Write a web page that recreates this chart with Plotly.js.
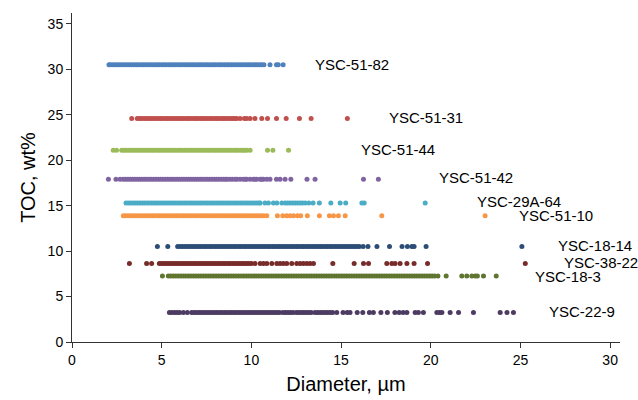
<!DOCTYPE html>
<html>
<head>
<meta charset="utf-8">
<script src="https://cdn.plot.ly/plotly-3.0.1.min.js"></script>
<style>html,body{margin:0;padding:0;background:#fff;}#chart{width:638px;height:400px;}</style>
</head>
<body>
<div id="chart"></div>
<script>
// Sample names and TOC (wt%) of each sample
const samples = ["YSC-51-82","YSC-51-31","YSC-51-44","YSC-51-42","YSC-29A-64","YSC-51-10","YSC-18-14","YSC-38-22","YSC-18-3","YSC-22-9"];
const tocValues = [30.5, 24.6, 21.1, 17.9, 15.3, 13.9, 10.5, 8.65, 7.25, 3.25];
const colors = ["#4F81BD","#C0504D","#9BBB59","#8064A2","#4BACC6","#F79646","#2C4D75","#772C2A","#5F7530","#4D3B62"];

// Diameters (µm)
const d_51_82 = [2.06,2.14,2.27,2.4,2.52,2.66,2.79,2.91,3.05,3.18,3.3,3.44,3.57,3.69,3.83,3.96,4.08,4.22,4.35,4.47,4.61,4.74,4.86,5.0,5.13,5.25,5.39,5.52,5.64,5.78,5.91,6.03,6.17,6.3,6.42,6.56,6.69,6.81,6.95,7.08,7.2,7.34,7.47,7.59,7.73,7.86,7.98,8.12,8.25,8.37,8.51,8.64,8.76,8.9,9.03,9.15,9.29,9.42,9.54,9.68,9.81,9.93,10.07,10.2,10.32,10.46,10.58,10.7,11.04,11.4,11.5,11.77];
const d_51_31 = [3.33,3.64,3.76,3.89,4.03,4.16,4.28,4.42,4.55,4.67,4.81,4.94,5.06,5.2,5.33,5.45,5.59,5.72,5.84,5.98,6.11,6.23,6.37,6.5,6.62,6.76,6.89,7.01,7.15,7.28,7.4,7.54,7.67,7.79,7.93,8.06,8.18,8.32,8.45,8.57,8.71,8.84,8.96,9.08,9.18,9.37,9.61,9.74,9.93,10.2,10.58,10.9,11.4,11.94,12.68,13.33,15.35];
const d_51_44 = [2.3,2.48,2.77,2.9,3.02,3.16,3.29,3.41,3.55,3.68,3.8,3.94,4.07,4.19,4.33,4.46,4.58,4.72,4.85,4.97,5.11,5.24,5.36,5.5,5.63,5.75,5.89,6.02,6.14,6.28,6.41,6.53,6.67,6.8,6.92,7.06,7.19,7.31,7.45,7.58,7.7,7.84,7.97,8.09,8.23,8.36,8.48,8.62,8.75,8.87,9.01,9.14,9.26,9.4,9.52,9.63,9.75,9.93,10.9,11.2,12.07];
const d_51_42 = [2.03,2.45,2.68,2.86,2.99,3.12,3.25,3.38,3.51,3.64,3.77,3.9,4.03,4.16,4.29,4.42,4.55,4.68,4.81,4.94,5.07,5.2,5.33,5.46,5.59,5.72,5.85,5.98,6.11,6.24,6.37,6.5,6.63,6.76,6.89,7.02,7.15,7.28,7.41,7.54,7.67,7.8,7.93,8.06,8.19,8.32,8.45,8.56,8.66,8.81,8.94,9.09,9.2,9.37,9.55,9.66,9.74,9.93,10.11,10.2,10.3,10.49,10.58,10.67,10.86,11.04,11.4,11.6,11.88,12.2,13.1,13.55,16.25,17.08];
const d_29A_64 = [3.01,3.14,3.27,3.4,3.53,3.66,3.79,3.92,4.05,4.18,4.31,4.44,4.57,4.7,4.83,4.96,5.09,5.22,5.35,5.48,5.61,5.74,5.87,6.0,6.13,6.26,6.39,6.52,6.65,6.78,6.91,7.04,7.17,7.3,7.43,7.56,7.69,7.82,7.95,8.08,8.21,8.34,8.47,8.6,8.73,8.86,8.99,9.12,9.25,9.38,9.51,9.64,9.77,9.9,10.03,10.16,10.29,10.42,10.49,10.76,10.95,11.23,11.42,11.7,11.88,12.02,12.16,12.3,12.44,12.58,12.72,12.85,13.0,13.2,13.44,13.79,14.43,14.95,15.26,16.16,16.29,19.69];
const d_51_10 = [2.86,2.99,3.13,3.26,3.4,3.53,3.67,3.8,3.94,4.07,4.21,4.34,4.48,4.61,4.75,4.88,5.02,5.15,5.29,5.42,5.56,5.69,5.83,5.96,6.1,6.23,6.37,6.5,6.64,6.77,6.91,7.04,7.18,7.31,7.45,7.58,7.72,7.85,7.99,8.12,8.26,8.39,8.53,8.66,8.8,8.93,9.07,9.2,9.34,9.47,9.61,9.74,9.88,10.01,10.15,10.28,10.42,10.55,10.69,10.86,11.45,11.75,11.97,12.16,12.35,12.57,12.75,13.12,13.79,14.35,14.58,14.85,15.23,17.27,23.03];
const d_18_14 = [4.76,5.34,5.89,6.03,6.16,6.3,6.43,6.57,6.7,6.84,6.97,7.11,7.24,7.38,7.51,7.65,7.78,7.92,8.05,8.19,8.32,8.46,8.59,8.73,8.86,9.0,9.13,9.27,9.4,9.54,9.67,9.81,9.94,10.08,10.21,10.35,10.48,10.62,10.75,10.89,11.02,11.16,11.29,11.43,11.56,11.7,11.83,11.97,12.1,12.24,12.37,12.51,12.64,12.78,12.91,13.05,13.18,13.32,13.45,13.59,13.72,13.86,13.99,14.13,14.26,14.4,14.53,14.67,14.8,14.94,15.07,15.21,15.34,15.48,15.61,15.75,15.88,16.02,16.23,16.5,17.0,17.7,18.4,18.7,18.95,19.07,19.74,25.08];
const d_38_22 = [3.2,4.16,4.44,4.87,5.0,5.14,5.27,5.41,5.54,5.68,5.81,5.95,6.08,6.22,6.35,6.49,6.62,6.76,6.89,7.03,7.16,7.3,7.43,7.57,7.7,7.84,7.97,8.11,8.24,8.38,8.51,8.65,8.78,8.92,9.05,9.19,9.32,9.46,9.59,9.73,9.86,10.0,10.2,10.49,10.67,10.86,11.14,11.42,11.6,11.78,11.97,12.25,12.53,12.72,12.9,13.09,13.27,13.46,14.54,15.73,16.25,16.53,17.55,17.83,18.01,18.29,18.67,19.07,19.82,25.27];
const d_18_3 = [5.04,5.37,5.51,5.65,5.79,5.93,6.07,6.21,6.35,6.49,6.63,6.77,6.91,7.05,7.19,7.33,7.47,7.61,7.75,7.89,8.03,8.17,8.31,8.45,8.59,8.73,8.87,9.01,9.15,9.29,9.43,9.57,9.71,9.85,9.99,10.13,10.27,10.41,10.55,10.69,10.83,10.97,11.11,11.25,11.39,11.53,11.67,11.81,11.95,12.09,12.23,12.37,12.51,12.65,12.79,12.93,13.07,13.21,13.35,13.49,13.63,13.77,13.91,14.05,14.19,14.33,14.47,14.61,14.75,14.89,15.03,15.17,15.31,15.45,15.59,15.73,15.87,16.01,16.15,16.29,16.43,16.57,16.71,16.85,16.99,17.13,17.27,17.41,17.55,17.69,17.83,17.97,18.11,18.25,18.39,18.53,18.67,18.81,18.95,19.09,19.23,19.37,19.51,19.65,19.79,19.93,20.07,20.21,20.4,20.86,21.73,22.01,22.29,22.48,22.6,22.94,23.65];
const d_22_9 = [5.43,5.57,5.72,5.86,6.0,6.21,6.43,6.67,6.81,6.95,7.09,7.23,7.37,7.51,7.65,7.79,7.93,8.07,8.21,8.35,8.49,8.63,8.77,8.91,9.05,9.19,9.33,9.47,9.61,9.75,9.89,10.03,10.17,10.31,10.45,10.59,10.73,10.87,11.01,11.15,11.29,11.43,11.57,11.76,11.9,12.04,12.18,12.32,12.5,12.64,12.78,12.92,13.06,13.2,13.34,13.55,13.69,13.83,13.97,14.11,14.25,14.39,14.53,14.76,15.11,15.34,15.5,15.9,16.21,16.58,16.8,17.22,17.58,18.0,18.24,18.46,18.67,19.13,19.31,19.59,20.34,20.49,20.62,21.08,21.55,22.38,23.87,24.25,24.61];

const diameters = [d_51_82,d_51_31,d_51_44,d_51_42,d_29A_64,d_51_10,d_18_14,d_38_22,d_18_3,d_22_9];

// Label anchor positions (x in µm, y in wt%)
const labelX = [13.45, 17.55, 16.0, 20.35, 22.45, 24.78, 27.0, 27.33, 25.72, 26.5];
const labelY = [30.55, 24.65, 21.15, 18.05, 15.5, 13.95, 10.65, 8.75, 7.25, 3.35];

const FONT = "Liberation Sans, Arial, sans-serif";

const traces = samples.map((name, i) => ({
  type: "scatter",
  mode: "markers",
  name: name,
  x: diameters[i],
  y: diameters[i].map(() => tocValues[i]),
  marker: {color: colors[i], size: 5, line: {width: 0}},
  hoverinfo: "x+y+name"
}));

const annotations = samples.map((name, i) => ({
  x: labelX[i], y: labelY[i], xref: "x", yref: "y",
  text: name, showarrow: false, xanchor: "left", yanchor: "middle",
  font: {family: FONT, size: 15, color: "#000"}
}));

const layout = {
  width: 638, height: 400,
  margin: {l: 72, r: 18, t: 13, b: 58},
  paper_bgcolor: "#fff", plot_bgcolor: "#fff",
  showlegend: false,
  font: {family: FONT, color: "#000"},
  xaxis: {
    range: [0, 30.55], tickvals: [0,5,10,15,20,25,30], ticktext: ["0","5","10","15","20","25","30"],
    showgrid: false, zeroline: false, showline: true, linecolor: "#333", linewidth: 1,
    ticks: "outside", ticklen: 5, tickcolor: "#333",
    tickfont: {family: FONT, size: 14, color: "#000"},
    title: {text: "Diameter, µm", font: {family: FONT, size: 20, color: "#000"}, standoff: 10}
  },
  yaxis: {
    range: [0, 36.2], tickvals: [0,5,10,15,20,25,30,35], ticktext: ["0","5","10","15","20","25","30","35"],
    showgrid: false, zeroline: false, showline: true, linecolor: "#333", linewidth: 1,
    ticks: "outside", ticklen: 5, tickcolor: "#333",
    tickfont: {family: FONT, size: 14, color: "#000"},
    title: {text: "TOC, wt%", font: {family: FONT, size: 20, color: "#000"}, standoff: 6}
  },
  annotations: annotations
};

Plotly.newPlot("chart", traces, layout, {displayModeBar: false, staticPlot: true});
</script>
</body>
</html>
